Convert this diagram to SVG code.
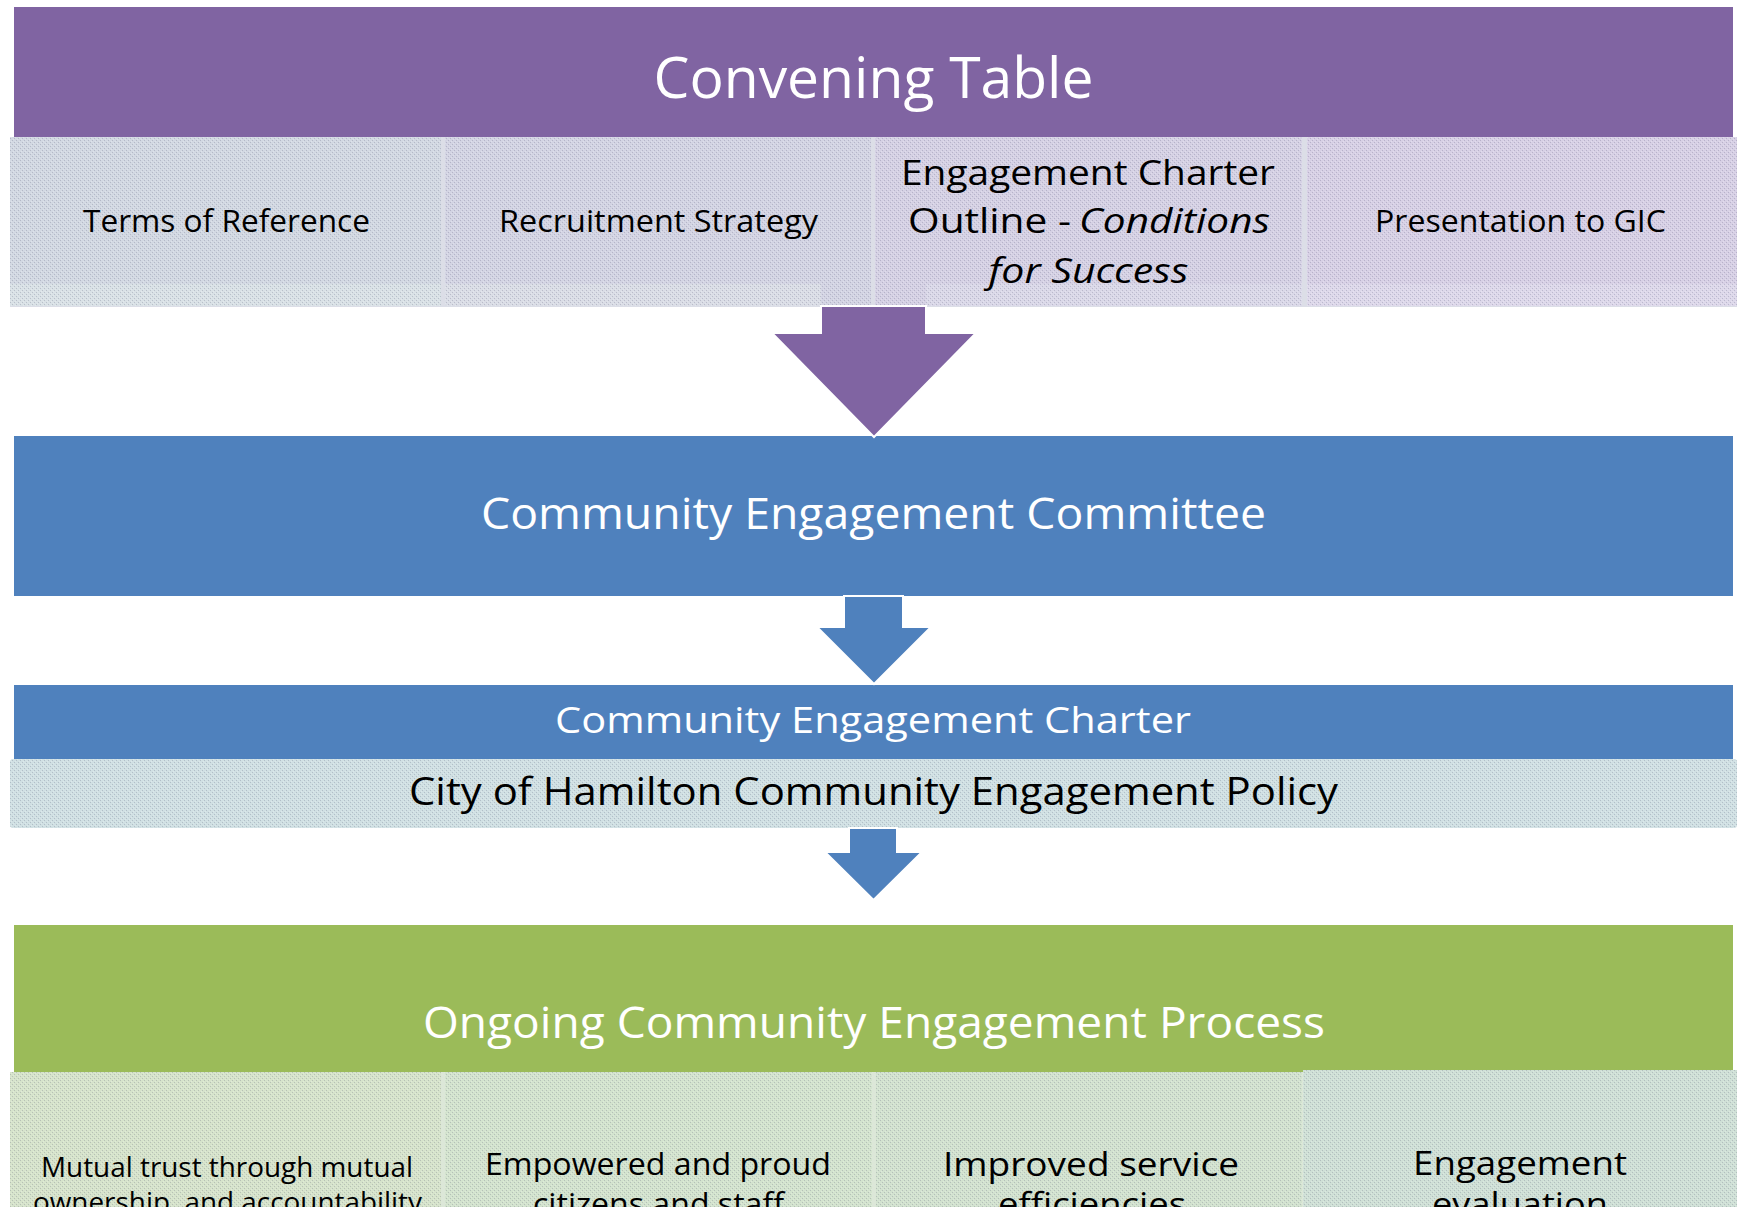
<svg xmlns="http://www.w3.org/2000/svg" width="1737" height="1207" viewBox="0 0 1737 1207">
  <defs>
    <style>
      .hdr { font-family: "Open Sans", "Liberation Sans", sans-serif; fill: #ffffff; }
      .txt { font-family: "Open Sans", "Liberation Sans", sans-serif; fill: #000000; }
      .it { font-style: italic; }
      .arrow { stroke: #ffffff; stroke-width: 2; stroke-linejoin: miter; }
    </style>
    <!-- fine dither texture laid over the pale cells -->
    <pattern id="grain" width="4" height="4" patternUnits="userSpaceOnUse">
      <rect x="0" y="0" width="1" height="1" fill="#4a4a6a" fill-opacity="0.22"/>
      <rect x="2" y="2" width="1" height="1" fill="#4a4a6a" fill-opacity="0.22"/>
      <rect x="1" y="3" width="1" height="1" fill="#ffffff" fill-opacity="0.25"/>
      <rect x="3" y="1" width="1" height="1" fill="#ffffff" fill-opacity="0.25"/>
    </pattern>
  </defs>

  <rect x="0" y="0" width="1737" height="1207" fill="#ffffff"/>

  <!-- Convening Table -->
  <g id="convening-table">
    <rect x="14" y="7" width="1719" height="130" fill="#8064A2"/>
    <text class="hdr" x="873.5" y="98" font-size="57" text-anchor="middle" textLength="440" lengthAdjust="spacingAndGlyphs">Convening Table</text>
  </g>

  <!-- pale row under the header -->
  <rect x="10" y="137" width="1727" height="170" fill="#DCDEE7"/>

  <g id="terms-of-reference">
    <rect x="10" y="137" width="431" height="147" fill="#D2D8E2"/>
    <rect x="10" y="284" width="431" height="22" fill="#D9E1E6"/>
    <rect x="10" y="137" width="431" height="169" fill="url(#grain)"/>
    <text class="txt" x="226.5" y="232" font-size="31" text-anchor="middle" textLength="287" lengthAdjust="spacingAndGlyphs">Terms of Reference</text>
  </g>

  <g id="recruitment-strategy">
    <rect x="445" y="137" width="426" height="147" fill="#D3D4E3"/>
    <rect x="445" y="284" width="376" height="22" fill="#DADDE6"/>
    <rect x="821" y="284" width="50" height="22" fill="#D3D4E3"/>
    <rect x="445" y="137" width="426" height="169" fill="url(#grain)"/>
    <text class="txt" x="658.5" y="232" font-size="31" text-anchor="middle" textLength="319" lengthAdjust="spacingAndGlyphs">Recruitment Strategy</text>
  </g>

  <g id="engagement-charter-outline">
    <rect x="875" y="137" width="427" height="169" fill="#D5D1E4"/>
    <rect x="926" y="284" width="376" height="22" fill="#DAD8E8"/>
    <rect x="875" y="137" width="427" height="169" fill="url(#grain)"/>
    <text class="txt" x="1088" y="185" font-size="35" text-anchor="middle" textLength="374" lengthAdjust="spacingAndGlyphs">Engagement Charter</text>
    <text class="txt" x="908" y="233" font-size="35" textLength="163" lengthAdjust="spacingAndGlyphs">Outline -</text>
    <text class="txt it" x="1079" y="233" font-size="35" textLength="191" lengthAdjust="spacingAndGlyphs">Conditions</text>
    <text class="txt it" x="988.5" y="283" font-size="35" textLength="200" lengthAdjust="spacingAndGlyphs">for Success</text>
  </g>

  <g id="presentation-to-gic">
    <rect x="1307" y="137" width="430" height="147" fill="#D7D0E5"/>
    <rect x="1307" y="284" width="430" height="22" fill="#DDD8EA"/>
    <rect x="1307" y="137" width="430" height="169" fill="url(#grain)"/>
    <text class="txt" x="1520.5" y="232" font-size="31" text-anchor="middle" textLength="291" lengthAdjust="spacingAndGlyphs">Presentation to GIC</text>
  </g>

  <!-- Community Engagement Committee -->
  <g id="engagement-committee">
    <rect x="14" y="436" width="1719" height="160" fill="#4F81BD"/>
    <text class="hdr" x="873.5" y="529" font-size="43" text-anchor="middle" textLength="785" lengthAdjust="spacingAndGlyphs">Community Engagement Committee</text>
  </g>

  <!-- Community Engagement Charter -->
  <g id="engagement-charter">
    <rect x="14" y="685" width="1719" height="74" fill="#4F81BD"/>
    <text class="hdr" x="873" y="733" font-size="36" text-anchor="middle" textLength="636" lengthAdjust="spacingAndGlyphs">Community Engagement Charter</text>
  </g>

  <g id="hamilton-policy">
    <rect x="10" y="759" width="1727" height="69" rx="3" fill="#D0E0E3"/>
    <rect x="10" y="759" width="1727" height="69" rx="3" fill="url(#grain)"/>
    <text class="txt" x="873.5" y="805" font-size="38" text-anchor="middle" textLength="929" lengthAdjust="spacingAndGlyphs">City of Hamilton Community Engagement Policy</text>
  </g>

  <!-- Ongoing Community Engagement Process -->
  <g id="engagement-process">
    <rect x="14" y="925" width="1719" height="147" fill="#9BBB59"/>
    <text class="hdr" x="874" y="1038" font-size="43" text-anchor="middle" textLength="902" lengthAdjust="spacingAndGlyphs">Ongoing Community Engagement Process</text>
  </g>

  <!-- pale row under the process header -->
  <rect x="10" y="1072" width="1727" height="140" fill="#DCE7D8"/>

  <g id="mutual-trust">
    <rect x="10" y="1072" width="431" height="140" fill="#D6E3CB"/>
    <rect x="10" y="1072" width="431" height="140" fill="url(#grain)"/>
    <text class="txt" x="227" y="1177" font-size="27" text-anchor="middle" textLength="372" lengthAdjust="spacingAndGlyphs">Mutual trust through mutual</text>
    <text class="txt" x="227.5" y="1212" font-size="27" text-anchor="middle" textLength="389" lengthAdjust="spacingAndGlyphs">ownership, and accountability</text>
  </g>

  <g id="empowered-citizens">
    <rect x="445" y="1072" width="427" height="140" fill="#D3E3CE"/>
    <rect x="445" y="1072" width="427" height="140" fill="url(#grain)"/>
    <text class="txt" x="658" y="1175" font-size="31" text-anchor="middle" textLength="346" lengthAdjust="spacingAndGlyphs">Empowered and proud</text>
    <text class="txt" x="658.5" y="1215" font-size="31" text-anchor="middle" textLength="251" lengthAdjust="spacingAndGlyphs">citizens and staff</text>
  </g>

  <g id="service-efficiencies">
    <rect x="876" y="1072" width="426" height="140" fill="#D2E2CF"/>
    <rect x="876" y="1072" width="426" height="140" fill="url(#grain)"/>
    <text class="txt" x="1091" y="1176" font-size="33" text-anchor="middle" textLength="296" lengthAdjust="spacingAndGlyphs">Improved service</text>
    <text class="txt" x="1092" y="1216" font-size="33" text-anchor="middle" textLength="188" lengthAdjust="spacingAndGlyphs">efficiencies</text>
  </g>

  <g id="engagement-evaluation">
    <rect x="1303" y="1070" width="434" height="142" fill="#CFE0D6"/>
    <rect x="1303" y="1070" width="434" height="142" fill="url(#grain)"/>
    <text class="txt" x="1520" y="1175" font-size="33" text-anchor="middle" textLength="214" lengthAdjust="spacingAndGlyphs">Engagement</text>
    <text class="txt" x="1520" y="1216" font-size="33" text-anchor="middle" textLength="176" lengthAdjust="spacingAndGlyphs">evaluation</text>
  </g>

  <!-- block arrows between the stages -->
  <g id="connectors">
    <polygon class="arrow" fill="#8064A2" points="821,306 926,306 926,333 976,333 874,437 772,333 821,333"/>
    <polygon class="arrow" fill="#4F81BD" points="844,596 903,596 903,627 931,627 874,684 817,627 844,627"/>
    <polygon class="arrow" fill="#4F81BD" points="849,828 897,828 897,852 922,852 873.5,900 825,852 849,852"/>
  </g>
</svg>
